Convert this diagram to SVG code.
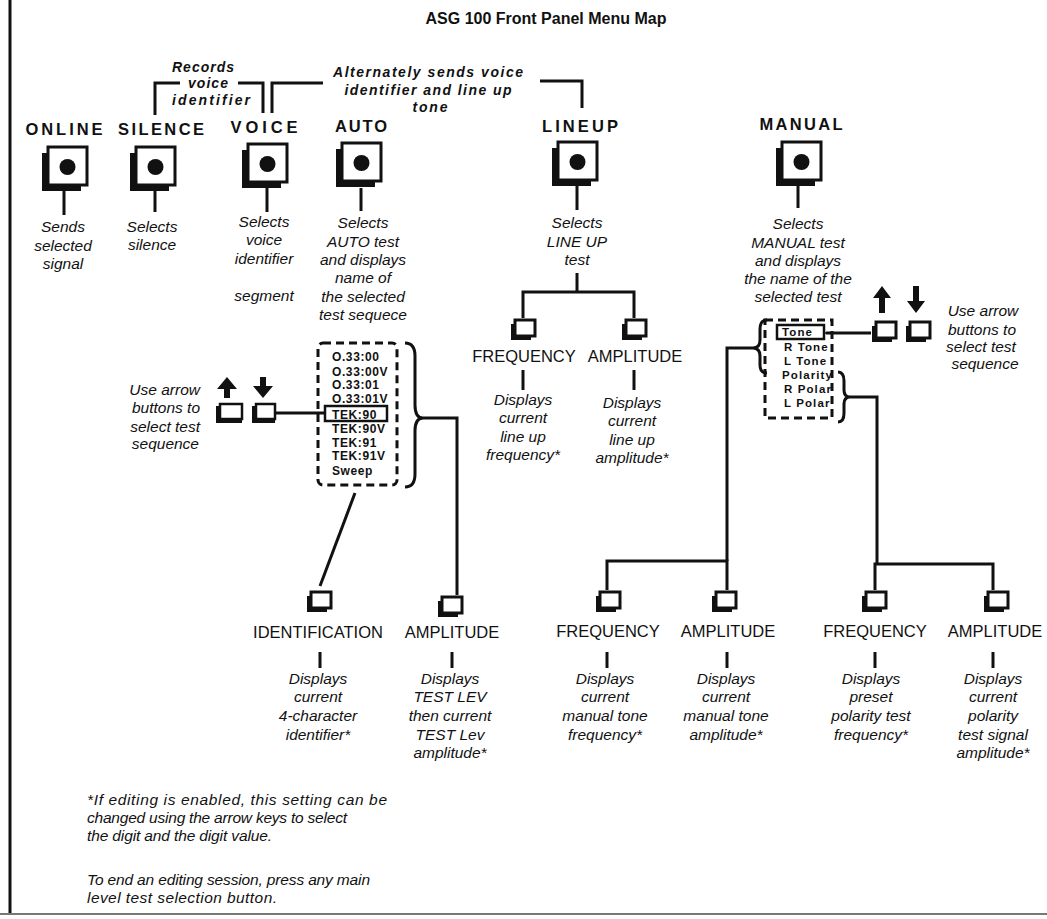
<svg xmlns="http://www.w3.org/2000/svg" width="1047" height="919" viewBox="0 0 1047 919">
<style>
text{fill:#111;font-family:"Liberation Sans",Arial,sans-serif}
.t{font-weight:bold;font-size:16px;text-anchor:middle}
.h{font-weight:bold;font-size:16.5px;text-anchor:middle}
.a{font-weight:bold;font-style:italic;font-size:14px;text-anchor:middle}
.d{font-style:italic;font-size:15.5px;text-anchor:middle}
.de{font-style:italic;font-size:15.5px;text-anchor:end}
.l{font-size:16.5px;text-anchor:middle}
.li{font-weight:bold;font-size:12px;letter-spacing:0.6px}
.mi{font-weight:bold;font-size:11.5px;letter-spacing:1.1px}
.f{font-style:italic;font-size:15.5px}
.ln{stroke:#111;stroke-width:3;fill:none}
.dash{stroke:#111;stroke-width:3;fill:none;stroke-dasharray:8 5}
.box{stroke:#111;stroke-width:2.5;fill:#fff}
</style>
<defs>
<g id="big">
<rect x="-6" y="6" width="39" height="38" fill="#111"/>
<rect x="0" y="0" width="39" height="38" fill="#fff" stroke="#111" stroke-width="3"/>
<circle cx="19.5" cy="20" r="8" fill="#111"/>
</g>
<g id="sm">
<rect x="-4" y="4" width="20" height="16" fill="#111"/>
<rect x="0" y="0" width="20" height="16" fill="#fff" stroke="#111" stroke-width="3"/>
</g>
<marker id="ah" markerWidth="8" markerHeight="8" refX="1" refY="4" orient="auto" markerUnits="userSpaceOnUse">
<path d="M0,4 L8,0 L8,8 Z" fill="#111"/>
</marker>
</defs>

<g id="frame">
<line x1="10" y1="0" x2="10" y2="913" stroke="#111" stroke-width="3"/>
<line x1="0" y1="914" x2="1047" y2="914" stroke="#777" stroke-width="2"/>
</g>

<text class="t" x="546" y="24">ASG 100 Front Panel Menu Map</text>

<g id="connectors">
<!-- top annotation brackets -->
<polyline class="ln" points="155,115 155,83 180,83"/>
<polyline class="ln" points="238,83 263,83 263,113"/>
<polyline class="ln" points="272,113 272,83 323,83"/>
<polyline class="ln" points="540,81 582,81 582,108"/>
<!-- under main buttons -->
<line class="ln" x1="64" y1="190" x2="64" y2="215"/>
<line class="ln" x1="155" y1="190" x2="155" y2="212"/>
<line class="ln" x1="267" y1="188" x2="267" y2="212"/>
<line class="ln" x1="361" y1="188" x2="361" y2="211"/>
<line class="ln" x1="577" y1="186" x2="577" y2="210"/>
<line class="ln" x1="798" y1="185" x2="798" y2="208"/>
<!-- lineup branch -->
<line class="ln" x1="577" y1="273" x2="577" y2="292"/>
<polyline class="ln" points="523,318 523,292 634,292 634,318"/>
<line class="ln" x1="523" y1="370" x2="523" y2="390"/>
<line class="ln" x1="634" y1="370" x2="634" y2="390"/>
<!-- auto branch -->
<line class="ln" x1="276" y1="413" x2="325" y2="413"/>
<path class="ln" d="M405,343 Q415,343 415,356 L415,405 Q415,418 423,418 Q415,418 415,431 L415,474 Q415,487 405,487"/>
<polyline class="ln" points="423,418 457,418 457,595"/>
<line class="ln" x1="355" y1="493" x2="320" y2="586"/>
<line class="ln" x1="320" y1="652" x2="320" y2="668"/>
<line class="ln" x1="452" y1="652" x2="452" y2="668"/>
<!-- manual branch -->
<line class="ln" x1="871" y1="333" x2="826" y2="333" marker-end="url(#ah)"/>
<path class="ln" d="M767,320 Q760,320 760,329 L760,340 Q760,348 753,348 Q760,348 760,356 L760,365 Q760,373 767,373"/>
<path class="ln" d="M838,372 Q844,372 844,381 L844,390 Q844,397 850,397 Q844,397 844,404 L844,413 Q844,422 838,422"/>
<polyline class="ln" points="753,348 727,348 727,561"/>
<polyline class="ln" points="607,590 607,561 727,561 727,590"/>
<polyline class="ln" points="850,397 877,397 877,564"/>
<polyline class="ln" points="875,590 875,564 993,564 993,590"/>
<line class="ln" x1="607" y1="652" x2="607" y2="668"/>
<line class="ln" x1="727" y1="652" x2="727" y2="668"/>
<line class="ln" x1="875" y1="652" x2="875" y2="668"/>
<line class="ln" x1="993" y1="652" x2="993" y2="668"/>
</g>

<g id="annot-records">
<text class="a" x="203" y="72" textLength="62" lengthAdjust="spacing">Records</text>
<text class="a" x="208" y="88" textLength="40" lengthAdjust="spacing">voice</text>
<text class="a" x="211" y="105" textLength="78" lengthAdjust="spacing">identifier</text>
</g>
<g id="annot-alternately">
<text class="a" x="428" y="77" textLength="190" lengthAdjust="spacing">Alternately sends voice</text>
<text class="a" x="428" y="95" textLength="167" lengthAdjust="spacing">identifier and line up</text>
<text class="a" x="430" y="112" textLength="35" lengthAdjust="spacing">tone</text>
</g>

<g id="online">
<text class="h" x="64" y="135" textLength="77" lengthAdjust="spacing">ONLINE</text>
<use href="#big" x="48" y="147"/>
<text class="d" x="63" y="232">Sends</text>
<text class="d" x="63" y="250.5">selected</text>
<text class="d" x="63" y="269">signal</text>
</g>
<g id="silence">
<text class="h" x="161" y="135" textLength="86" lengthAdjust="spacing">SILENCE</text>
<use href="#big" x="136" y="147"/>
<text class="d" x="152" y="232">Selects</text>
<text class="d" x="152" y="250">silence</text>
</g>
<g id="voice">
<text class="h" x="264" y="133" textLength="67" lengthAdjust="spacing">VOICE</text>
<use href="#big" x="248" y="144"/>
<text class="d" x="264" y="227">Selects</text>
<text class="d" x="264" y="245">voice</text>
<text class="d" x="264" y="264">identifier</text>
<text class="d" x="264" y="301">segment</text>
</g>
<g id="auto">
<text class="h" x="361" y="132" textLength="52" lengthAdjust="spacing">AUTO</text>
<use href="#big" x="342" y="143"/>
<text class="d" x="363" y="228">Selects</text>
<text class="d" x="363" y="247">AUTO test</text>
<text class="d" x="363" y="265">and displays</text>
<text class="d" x="363" y="283">name of</text>
<text class="d" x="363" y="302">the selected</text>
<text class="d" x="363" y="320">test sequece</text>
</g>
<g id="lineup">
<text class="h" x="580" y="132" textLength="76" lengthAdjust="spacing">LINEUP</text>
<use href="#big" x="558" y="142"/>
<text class="d" x="577" y="228">Selects</text>
<text class="d" x="577" y="247">LINE UP</text>
<text class="d" x="577" y="265">test</text>
</g>
<g id="manual">
<text class="h" x="801" y="130" textLength="83" lengthAdjust="spacing">MANUAL</text>
<use href="#big" x="782" y="142"/>
<text class="d" x="798" y="229">Selects</text>
<text class="d" x="798" y="248">MANUAL test</text>
<text class="d" x="798" y="266">and displays</text>
<text class="d" x="798" y="284">the name of the</text>
<text class="d" x="798" y="302">selected test</text>
</g>

<g id="lineup-frequency">
<use href="#sm" x="515" y="320"/>
<text class="l" x="524" y="362">FREQUENCY</text>
<text class="d" x="523" y="405">Displays</text>
<text class="d" x="523" y="423">current</text>
<text class="d" x="523" y="442">line up</text>
<text class="d" x="523" y="460">frequency*</text>
</g>
<g id="lineup-amplitude">
<use href="#sm" x="626" y="320"/>
<text class="l" x="635" y="362">AMPLITUDE</text>
<text class="d" x="632" y="408">Displays</text>
<text class="d" x="632" y="426">current</text>
<text class="d" x="632" y="445">line up</text>
<text class="d" x="632" y="463">amplitude*</text>
</g>

<g id="auto-arrows">
<path d="M227,377 L237,389 L230,389 L230,398 L224,398 L224,389 L217,389 Z" fill="#111"/>
<path d="M263,398 L273,386 L266,386 L266,377 L260,377 L260,386 L253,386 Z" fill="#111"/>
<rect x="216" y="406" width="26" height="17" fill="#111"/>
<rect x="220" y="404" width="22" height="15" class="box" stroke-width="3"/>
<rect x="252" y="406" width="23" height="17" fill="#111"/>
<rect x="256" y="404" width="19" height="15" class="box" stroke-width="3"/>
<text class="de" x="200" y="395">Use arrow</text>
<text class="de" x="200" y="413">buttons to</text>
<text class="de" x="200" y="432">select test</text>
<text class="de" x="199" y="449">sequence</text>
</g>

<g id="auto-list">
<rect class="dash" x="318" y="343" width="79" height="142" rx="5"/>
<text class="li" x="332" y="361">O.33:00</text>
<text class="li" x="332" y="376">O.33:00V</text>
<text class="li" x="332" y="389">O.33:01</text>
<text class="li" x="332" y="403">O.33:01V</text>
<rect class="box" x="325" y="406" width="62" height="15" stroke-width="3"/>
<text class="li" x="332" y="418.5">TEK:90</text>
<text class="li" x="332" y="432.5">TEK:90V</text>
<text class="li" x="332" y="447">TEK:91</text>
<text class="li" x="332" y="460">TEK:91V</text>
<text class="li" x="332" y="475">Sweep</text>
</g>

<g id="auto-identification">
<use href="#sm" x="311" y="592"/>
<text class="l" x="318" y="638">IDENTIFICATION</text>
<text class="d" x="318" y="684">Displays</text>
<text class="d" x="318" y="702">current</text>
<text class="d" x="318" y="721">4-character</text>
<text class="d" x="318" y="740">identifier*</text>
</g>
<g id="auto-amplitude">
<use href="#sm" x="442" y="597"/>
<text class="l" x="452" y="638">AMPLITUDE</text>
<text class="d" x="450" y="684">Displays</text>
<text class="d" x="450" y="702">TEST LEV</text>
<text class="d" x="450" y="721">then current</text>
<text class="d" x="450" y="740">TEST Lev</text>
<text class="d" x="450" y="758">amplitude*</text>
</g>

<g id="manual-arrows">
<path d="M882,286 L891,298 L885,298 L885,313 L879,313 L879,298 L873,298 Z" fill="#111"/>
<path d="M916,313 L925,301 L919,301 L919,286 L913,286 L913,301 L907,301 Z" fill="#111"/>
<use href="#sm" x="876" y="322"/>
<use href="#sm" x="910" y="322"/>
<text class="d" x="983" y="316">Use arrow</text>
<text class="d" x="982" y="335">buttons to</text>
<text class="d" x="981" y="352">select test</text>
<text class="d" x="985" y="369">sequence</text>
</g>

<g id="manual-list">
<rect class="dash" x="765" y="320" width="67" height="98"/>
<rect class="box" x="777" y="325" width="47" height="14"/>
<text class="mi" x="782" y="336">Tone</text>
<text class="mi" x="784" y="351">R Tone</text>
<text class="mi" x="784" y="365">L Tone</text>
<text class="mi" x="782" y="379">Polarity</text>
<text class="mi" x="784" y="393">R Polar</text>
<text class="mi" x="784" y="407">L Polar</text>
</g>

<g id="manual-frequency">
<use href="#sm" x="600" y="592"/>
<text class="l" x="608" y="637">FREQUENCY</text>
<text class="d" x="605" y="684">Displays</text>
<text class="d" x="605" y="702">current</text>
<text class="d" x="605" y="721">manual tone</text>
<text class="d" x="605" y="740">frequency*</text>
</g>
<g id="manual-amplitude">
<use href="#sm" x="716" y="592"/>
<text class="l" x="728" y="637">AMPLITUDE</text>
<text class="d" x="726" y="684">Displays</text>
<text class="d" x="726" y="702">current</text>
<text class="d" x="726" y="721">manual tone</text>
<text class="d" x="726" y="740">amplitude*</text>
</g>
<g id="polarity-frequency">
<use href="#sm" x="866" y="592"/>
<text class="l" x="875" y="637">FREQUENCY</text>
<text class="d" x="871" y="684">Displays</text>
<text class="d" x="871" y="702">preset</text>
<text class="d" x="871" y="721">polarity test</text>
<text class="d" x="871" y="740">frequency*</text>
</g>
<g id="polarity-amplitude">
<use href="#sm" x="988" y="592"/>
<text class="l" x="995" y="637">AMPLITUDE</text>
<text class="d" x="993" y="684">Displays</text>
<text class="d" x="993" y="702">current</text>
<text class="d" x="993" y="721">polarity</text>
<text class="d" x="993" y="740">test signal</text>
<text class="d" x="993" y="758">amplitude*</text>
</g>

<g id="footnote">
<text class="f" x="87" y="805" textLength="300" lengthAdjust="spacing">*If editing is enabled, this setting can be</text>
<text class="f" x="87" y="823" textLength="260" lengthAdjust="spacing">changed using the arrow keys to select</text>
<text class="f" x="87" y="841" textLength="185" lengthAdjust="spacing">the digit and the digit value.</text>
<text class="f" x="87" y="885" textLength="283" lengthAdjust="spacing">To end an editing session, press any main</text>
<text class="f" x="87" y="903" textLength="190" lengthAdjust="spacing">level test selection button.</text>
</g>
</svg>
